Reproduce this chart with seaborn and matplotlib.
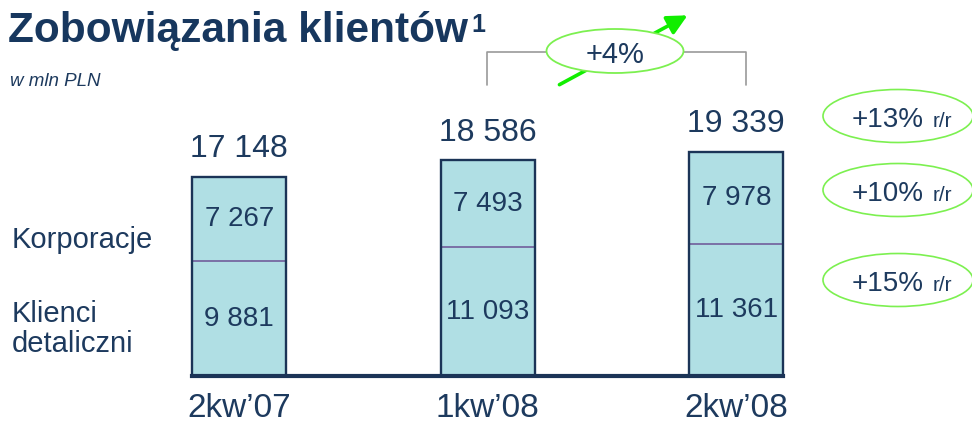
import matplotlib
matplotlib.use("Agg")
import matplotlib.pyplot as plt
import seaborn as sns
import pandas as pd
from matplotlib.patches import Ellipse, FancyArrowPatch
from matplotlib.lines import Line2D

# ---- data ----
quarters = ["2kw’07", "1kw’08", "2kw’08"]
retail = [9881, 11093, 11361]
corporate = [7267, 7493, 7978]
totals = [r + c for r, c in zip(retail, corporate)]
yoy_labels = ["+13%", "+10%", "+15%"]
qoq_label = "+4%"
series_names = ["Korporacje", "Klienci\ndetaliczni"]
title = "Zobowiązania klientów"
subtitle = "w mln PLN"


def fmt(v):
    return f"{v:,}".replace(",", " ")


# ---- style ----
FILL = "#b0dfe4"
NAVY = "#1b3457"
PURPLE = "#7a70a6"
TEXT = "#1d3a5e"
TITLE_C = "#17375e"
GREEN = "#11ee00"
ELL = "#7cf050"
GRAY = "#9a9a9a"

sns.set_theme(style="white")
plt.rcParams["font.family"] = ["Liberation Sans", "DejaVu Sans"]

W, H = 972, 425
fig = plt.figure(figsize=(W / 100, H / 100), dpi=100)


def fx(px):
    return px / W


def fy(py):
    return 1 - py / H


ax = fig.add_axes([fx(115), fy(376), fx(745.5), 282 / H])
df = pd.DataFrame({"kw": quarters, "razem": totals, "det": retail})
bw = 0.378
sns.barplot(data=df, x="kw", y="razem", color=FILL, saturation=1, width=bw,
            linewidth=0, edgecolor="none", ax=ax, zorder=1)
sns.barplot(data=df, x="kw", y="det", color=FILL, saturation=1, width=bw,
            linewidth=1.4, edgecolor=PURPLE, ax=ax, zorder=2)
sns.barplot(data=df, x="kw", y="razem", color=NAVY, fill=False, width=bw,
            linewidth=1.7, ax=ax, zorder=3)

ax.set_xlim(-0.5, 2.5)
ax.set_ylim(0, 24300)
ax.set_xlabel("")
ax.set_ylabel("")
ax.set_yticks([])
for s in ["left", "top", "right"]:
    ax.spines[s].set_visible(False)
ax.spines["bottom"].set_bounds(-bw / 2, 2 + bw / 2)
ax.spines["bottom"].set_linewidth(3)
ax.spines["bottom"].set_color(NAVY)
ax.spines["bottom"].set_zorder(5)
ax.tick_params(axis="x", length=0, labelsize=24, colors=TEXT, pad=12)
ax.patch.set_alpha(0)

for i in range(len(quarters)):
    ax.text(i, retail[i] / 2, fmt(retail[i]), ha="center", va="center",
            fontsize=20, color=TEXT, zorder=6)
    ax.text(i, retail[i] + corporate[i] / 2, fmt(corporate[i]), ha="center",
            va="center", fontsize=20, color=TEXT, zorder=6)
    ax.annotate(fmt(totals[i]), (i, totals[i]), xytext=(0, 9),
                textcoords="offset points", ha="center", va="bottom",
                fontsize=23, color=TEXT)

# ---- title ----
t = fig.text(fx(8), fy(42), title, fontsize=30.5, weight="bold",
             color=TITLE_C, va="baseline")
fig.canvas.draw()
bb = t.get_window_extent()
fig.text(fx(bb.x1 + 3), fy(32), "1", fontsize=18, weight="bold",
         color=TITLE_C, va="baseline")
fig.text(fx(10), fy(86), subtitle, fontsize=13.5, style="italic", color=TEXT,
         va="baseline")

# ---- left series labels ----
fig.text(fx(12), fy(240), series_names[0], fontsize=21, color=TEXT,
         va="center")
fig.text(fx(12), fy(329), series_names[1], fontsize=21, color=TEXT,
         va="center", linespacing=1.08)

# ---- quarter-on-quarter bracket ----
fig.add_artist(Line2D([fx(487), fx(487), fx(746), fx(746)],
                      [fy(85), fy(52), fy(52), fy(85)],
                      transform=fig.transFigure, color=GRAY, lw=1.2,
                      zorder=1))
fig.add_artist(FancyArrowPatch((fx(557), fy(86)), (fx(690), fy(14)),
                               transform=fig.transFigure,
                               arrowstyle="-|>,head_length=0.4,head_width=0.2",
                               mutation_scale=30, color=GREEN, lw=2.6,
                               zorder=2))
fig.add_artist(Ellipse((fx(615), fy(51)), 137 / W, 44 / H,
                       transform=fig.transFigure, facecolor="white",
                       edgecolor=ELL, lw=1.3, zorder=3))
fig.text(fx(615), fy(63), qoq_label, fontsize=21, color=TEXT,
         ha="center", va="baseline", zorder=4)

# ---- year-on-year ellipses ----
for lab, cy in zip(yoy_labels, [116, 190, 280]):
    fig.add_artist(Ellipse((fx(898), fy(cy)), 150 / W, 53 / H,
                           transform=fig.transFigure, facecolor="white",
                           edgecolor=ELL, lw=1.2, zorder=3))
    fig.text(fx(924), fy(cy + 11), lab, fontsize=20, color=TEXT,
             ha="right", va="baseline", zorder=4)
    fig.text(fx(933), fy(cy + 11), "r/r", fontsize=15, color=TEXT,
             ha="left", va="baseline", zorder=4)

fig.savefig("out.png", dpi=100)
